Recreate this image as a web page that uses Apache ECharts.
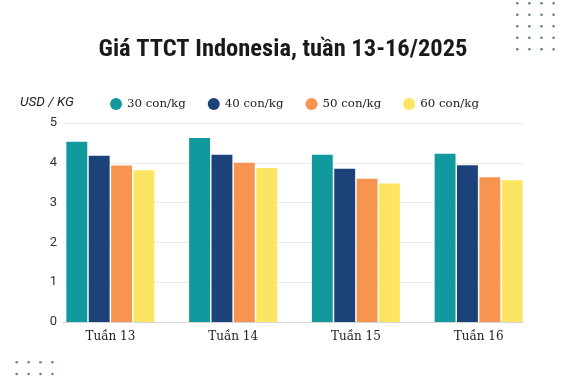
<!DOCTYPE html>
<html>
<head>
<meta charset="utf-8">
<script src="https://cdn.jsdelivr.net/npm/echarts@6/dist/echarts.min.js"></script>
<style>html,body{margin:0;padding:0;background:#fff}#c{width:566px;height:383px}</style>
</head>
<body>
<div id="c"></div>
<script>
const categories = ['Tuần 13', 'Tuần 14', 'Tuần 15', 'Tuần 16'];
const seriesNames = ['30 con/kg', '40 con/kg', '50 con/kg', '60 con/kg'];
const s30 = [4.53, 4.62, 4.20, 4.23];
const s40 = [4.18, 4.20, 3.85, 3.94];
const s50 = [3.93, 4.00, 3.60, 3.64];
const s60 = [3.81, 3.87, 3.48, 3.56];
const yTicks = [0, 1, 2, 3, 4, 5];
const colors = ['#11999e', '#1b4279', '#f7944f', '#fde562'];

const chart = echarts.init(document.getElementById('c'), null, {renderer: 'canvas'});

function dots(x0, y0, cols, rows, dx, dy, color) {
  const out = [];
  for (let i = 0; i < cols; i++) for (let j = 0; j < rows; j++) {
    out.push({type: 'circle', shape: {cx: x0 + i * dx, cy: y0 + j * dy, r: 1.3}, style: {fill: color}, silent: true});
  }
  return out;
}

const allSeries = [s30, s40, s50, s60];
chart.setOption({
  animation: false,
  title: {
    text: 'Giá TTCT Indonesia, tuần 13-16/2025',
    left: 'center', top: 32,
    textStyle: {fontFamily: '"Roboto Condensed", "Liberation Sans Narrow", "DejaVu Sans Condensed", Roboto, sans-serif', fontWeight: 'bold', fontSize: 24.5, color: '#1a1a1a'}
  },
  legend: {
    left: 105, top: 93,
    icon: 'circle', itemWidth: 12, itemHeight: 12, itemGap: 22,
    data: seriesNames,
    textStyle: {fontFamily: '"DejaVu Serif", serif', fontSize: 11.8, color: '#222'}
  },
  grid: [
    {left: 63, right: 43, top: 123, bottom: 61},
    {left: 49, right: 26, top: 123, bottom: 61}
  ],
  xAxis: [
    {type: 'category', gridIndex: 0, data: categories, axisLabel: {show: false}, axisTick: {show: false},
     axisLine: {show: true, lineStyle: {color: '#d6d6d6', width: 1}}},
    {type: 'category', gridIndex: 1, data: categories, axisTick: {show: false}, axisLine: {show: false},
     axisLabel: {fontFamily: '"DejaVu Serif", serif', fontSize: 12, color: '#222', margin: 9}}
  ],
  yAxis: [
    {type: 'value', gridIndex: 0, min: yTicks[0], max: yTicks[yTicks.length - 1], interval: 1,
     name: 'USD / KG', nameLocation: 'end', nameGap: 13,
     nameTextStyle: {fontFamily: 'Roboto, sans-serif', fontStyle: 'italic', fontSize: 13.5, color: '#222', align: 'left', padding: [0, 0, 0, -43]},
     axisLabel: {fontFamily: 'Roboto, sans-serif', fontSize: 13, color: '#333', margin: 6},
     axisLine: {show: false}, axisTick: {show: false},
     splitLine: {lineStyle: {color: '#ebebeb'}}},
    {type: 'value', gridIndex: 1, min: yTicks[0], max: yTicks[yTicks.length - 1], interval: 1, show: false,
     splitLine: {show: false}}
  ],
  series: seriesNames.map((n, i) => ({
    name: n, type: 'bar', xAxisIndex: 1, yAxisIndex: 1,
    data: allSeries[i], itemStyle: {color: colors[i]},
    barGap: '7%', barCategoryGap: '28.3%'
  })),
  graphic: dots(517.3, 3.3, 4, 5, 12.1, 11.5, '#5f7f80').concat(dots(16.7, 362.3, 4, 2, 11.9, 11.7, '#6f8484'))
});
</script>
</body>
</html>
